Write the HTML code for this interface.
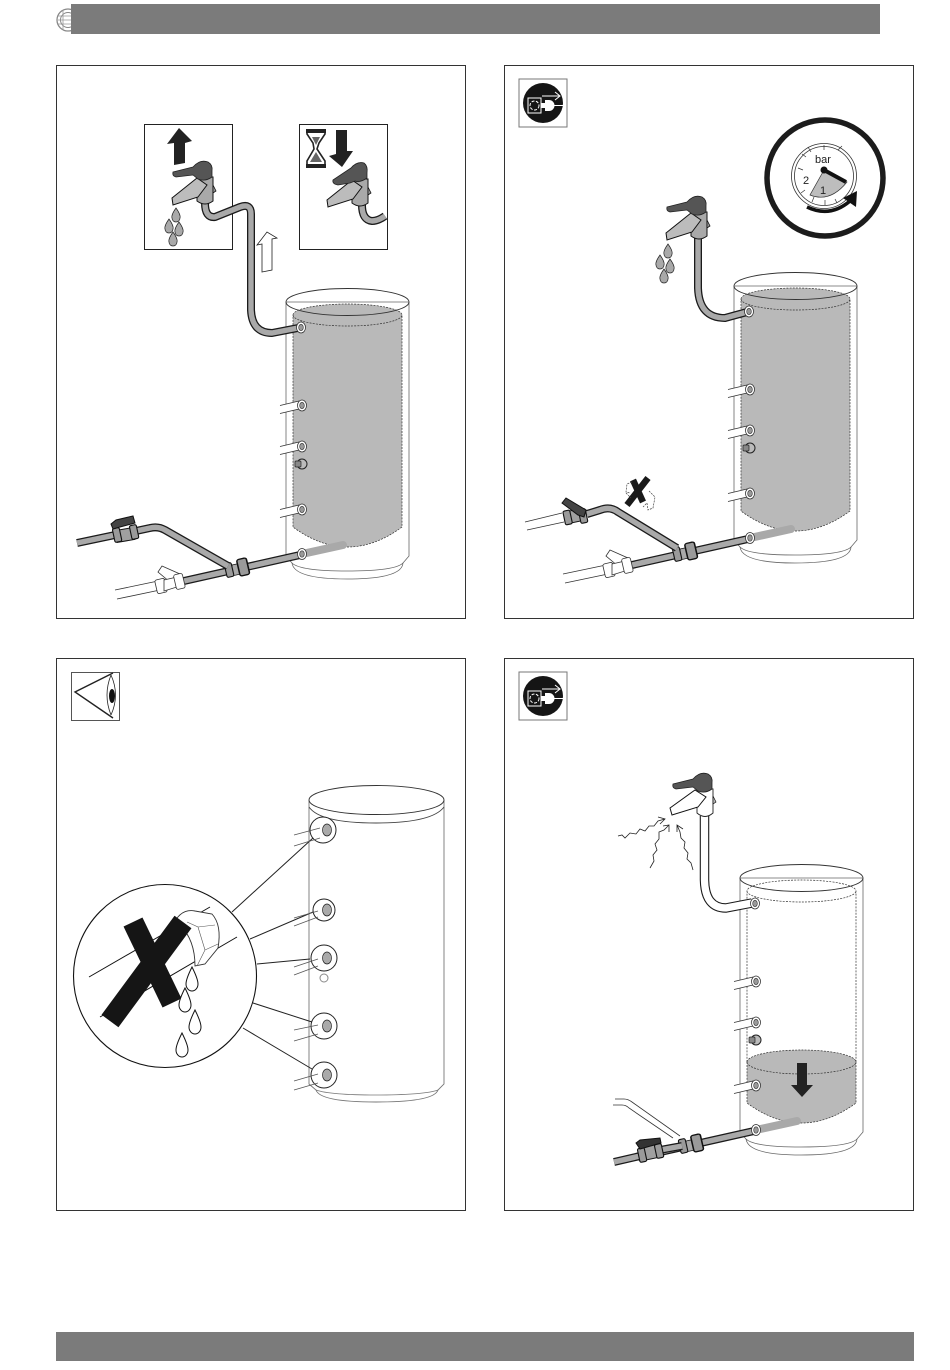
<!DOCTYPE html>
<html><head><meta charset="utf-8"><style>
html,body{margin:0;padding:0;background:#fff;width:950px;height:1370px;overflow:hidden}
svg{display:block}
.po{fill:none;stroke:#1a1a1a;stroke-width:8;stroke-linecap:butt;stroke-linejoin:round}
.pi{fill:none;stroke:#a9a9a9;stroke-width:5.4;stroke-linecap:butt;stroke-linejoin:round}
.frame{fill:#fff;stroke:#333;stroke-width:1}
text{font-family:"Liberation Sans",sans-serif;fill:#222}
</style></head><body>
<svg width="950" height="1370" viewBox="0 0 950 1370" xmlns="http://www.w3.org/2000/svg">
<defs>
<g id="shell">
<path d="M286,302V556L292,563Q294,579 347,579Q402,579 403,563L409,556V302Z" fill="#fff" stroke="#666" stroke-width=".8"/>
<path d="M292,563Q300,571 347,571Q395,571 403,563" fill="none" stroke="#666" stroke-width=".8"/>
</g>
<g id="water">
<path d="M293,315A54.5,11 0 0 1 402,315V527Q347.5,567 293,527Z" fill="#b9b9b9" stroke="#333" stroke-width=".7" stroke-dasharray="2 1.2"/>
<path d="M293,315A54.5,11 0 0 0 402,315" fill="none" stroke="#333" stroke-width=".7" stroke-dasharray="2 1.2"/>
</g>
<ellipse id="rim" cx="347.5" cy="302" rx="61.5" ry="13.5" fill="none" stroke="#333" stroke-width=".9"/>
<g id="pt">
<ellipse cx="0" cy="2.5" rx="4.5" ry="5.5" fill="#fff" stroke="#333" stroke-width=".8"/>
<ellipse cx="0" cy="2.5" rx="2.3" ry="3.2" fill="#999" stroke="#333" stroke-width=".6"/>
</g>
<g id="stub">
<path d="M-22,2.500L-3,-2V6L-22,10.500Z" fill="#fff"/>
<path d="M-22,2.500L-3,-2M-22,10.500L-3,6" stroke="#333" stroke-width=".8" fill="none"/>
<use href="#pt"/>
</g>
<g id="ports">
<use href="#stub" x="302" y="403"/>
<use href="#stub" x="302" y="444"/>
<circle cx="302" cy="464" r="5" fill="#bbb" stroke="#222" stroke-width="1"/>
<rect x="295" y="461" width="6" height="6" rx="1" fill="#888" stroke="#222" stroke-width=".7"/>
<use href="#stub" x="302" y="507"/>
</g>
<rect id="nut" x="-3.4" y="-7" width="7" height="14" rx="1.6" fill="#9a9a9a" stroke="#111" stroke-width="1.1"/>
<g id="main">
<path d="M302,554L343,545" stroke="#a9a9a9" stroke-width="8" stroke-linecap="round"/>
<path class="po" d="M184,581L300,555"/>
<path class="pi" d="M184,581L300,555"/>
<path d="M232,565L241,563V574L232,576Z" fill="#a9a9a9" stroke="#111" stroke-width=".7"/>
<use href="#nut" transform="translate(229,570) rotate(-13)"/>
<use href="#nut" transform="translate(243,567) rotate(-13) scale(1.4,1.2)"/>
<use href="#pt" transform="translate(302,551.500)"/>
</g>
<g id="whitevalve" fill="#fff" stroke="#333" stroke-width=".8">
<path d="M115,590L158,581M117,599L160,590" fill="none"/>
<path d="M158,572L162,566L180,574L178,580L170,582Z"/>
<rect x="156" y="579" width="10" height="14" rx="2" transform="rotate(-13 161 586)"/>
<path d="M164,580L177,577V587L164,591Z"/>
<rect x="175" y="574" width="9" height="15" rx="2" transform="rotate(-13 179 582)"/>
</g>
<g id="fa">
<path d="M-8,-28H8V-4Q0,2 -8,-4Z" fill="#a9a9a9" stroke="#111"/>
<path d="M8,-20L11,-14L8,-12Z" fill="#999" stroke="#111" stroke-width=".8"/>
<path d="M-33,-7L-8,-27L2,-20L-7,-8L-32,0Z" fill="#bcbcbc" stroke="#111"/>
<path d="M-32,-33L-12,-38Q-5,-46 3,-43Q8,-40 7,-34V-28Q0,-23 -7,-26L-12,-30L-29,-28Q-33,-29 -32,-33Z" fill="#555" stroke="#222" stroke-width=".8"/>
</g>
<g id="fa2">
<path d="M-8,-28H8V-4Q0,2 -8,-4Z" fill="#a9a9a9" stroke="#111"/>
<path d="M8,-20L11,-14L8,-12Z" fill="#999" stroke="#111" stroke-width=".8"/>
<path d="M-33,-7L-8,-27L2,-20L-7,-8L-32,0Z" fill="#bcbcbc" stroke="#111"/>
<path d="M-27,-27L-9,-39Q-3,-46 4,-44Q8,-41 7,-34V-29Q0,-24 -5,-26L-10,-24L-22,-22Q-28,-23 -27,-27Z" fill="#555" stroke="#222" stroke-width=".8"/>
</g>
<path id="drop" d="M0,-7Q5,0 4,3A4,4 0 1 1 -4,3Q-5,0 0,-7Z" fill="#a9a9a9" stroke="#222" stroke-width=".7"/>
<path id="drop2" d="M0,-12Q6,0 6,5A6,7 0 1 1 -6,5Q-6,0 0,-12Z" fill="#fff" stroke="#111" stroke-width="1"/>
<g id="icon">
<rect x="-24" y="-24" width="48" height="48" fill="#fff" stroke="#777"/>
<circle r="20" fill="#151515"/>
<rect x="-15" y="-5" width="13" height="15" fill="#151515" stroke="#fff"/>
<circle cx="-8.500" cy="2.500" r="4.500" fill="none" stroke="#fff" stroke-dasharray="3 1.500"/>
<path d="M-2,0H2V-3H6A5.500,5.500 0 0 1 6,8H2V5H-2Z" fill="#fff"/>
<path d="M11,2.500H20" stroke="#fff"/>
<path d="M-1,-7H17M12,-11L17,-7L12,-3" fill="none" stroke="#fff" stroke-width="1"/>
</g>
</defs>

<rect width="950" height="1370" fill="#fff"/>
<!-- header logo & bars -->
<circle cx="68" cy="20" r="11" fill="#fff" stroke="#888" stroke-width="1.300"/>
<circle cx="68" cy="20" r="7.500" fill="none" stroke="#888" stroke-width="1"/>
<path d="M58,16H72M58,20H72M58,24H72M63,10V30" stroke="#999" stroke-width=".8"/>
<rect x="71" y="4" width="809" height="30" fill="#7b7b7b"/>
<rect x="56" y="1332" width="858" height="29" fill="#7b7b7b"/>

<!-- frames -->
<rect class="frame" x="56.500" y="65.500" width="409" height="553"/>
<rect class="frame" x="504.500" y="65.500" width="409" height="553"/>
<rect class="frame" x="56.500" y="658.500" width="409" height="552"/>
<rect class="frame" x="504.500" y="658.500" width="409" height="552"/>

<!-- PANEL 1 -->
<rect x="144.500" y="124.500" width="88" height="125" fill="#fff" stroke="#222"/>
<rect x="299.500" y="124.500" width="88" height="125" fill="#fff" stroke="#222"/>
<use href="#shell"/><use href="#water"/><use href="#rim"/><use href="#ports"/>
<path class="po" d="M205,203Q205,218 215,217L240,207Q251,203 251,214V310Q252,333 272,333L298,328"/>
<path class="pi" d="M205,203Q205,218 215,217L240,207Q251,203 251,214V310Q252,333 272,333L298,328"/>
<use href="#pt" x="301" y="325"/>
<use href="#fa" x="205" y="205"/>
<use href="#drop" x="176" y="215"/><use href="#drop" x="169" y="226"/><use href="#drop" x="179" y="229"/><use href="#drop" x="173" y="239"/>
<path d="M174,165L185,163V143L192,141L179,128L167,144L174,143Z" fill="#222"/>
<path d="M336,130H347V151L353,151L342,167L329,156L336,154Z" fill="#222"/>
<path d="M307,130H325V134L319,143L317,149L325,161V167H307V161L314,149L313,143L307,134Z" fill="#fff" stroke="#222" stroke-width="1.600"/>
<path d="M306,129H326V133H306ZM306,164H326V168H306Z" fill="#222"/>
<path d="M312,137H320L316,145Z M310,162L316,152L322,162Z" fill="#666"/>
<path class="po" d="M362,205Q362,220 372,221Q378,221 385,216" stroke-width="7"/>
<path class="pi" d="M362,205Q362,220 372,221Q378,221 385,216" stroke-width="4.500"/>
<use href="#fa2" x="360" y="207"/>
<path d="M262,272L272,270V239L277,238L267,232L257,245L262,244Z" fill="#fff" stroke="#222" stroke-width=".8"/>
<use href="#main"/><use href="#whitevalve"/>
<path class="po" d="M77,543L115,535M136,531L150,528Q158,526 165,530L228,566"/>
<path class="pi" d="M77,543L115,535M136,531L150,528Q158,526 165,530L228,566"/>
<rect x="116" y="529" width="18" height="12" fill="#a0a0a0" stroke="#111" transform="rotate(-10 125 535)"/>
<use href="#nut" transform="translate(117,535) rotate(-12)"/>
<use href="#nut" transform="translate(134,532) rotate(-12)"/>
<path d="M111,524L116,520L133,516L135,523L120,527L113,529Z" fill="#444" stroke="#111"/>

<!-- PANEL 2 -->
<use href="#icon" x="543" y="103"/>
<g transform="translate(448,-16)"><use href="#shell"/><use href="#water"/><use href="#rim"/><use href="#ports"/><use href="#main"/><use href="#whitevalve"/></g>
<path class="po" d="M698,238V288Q699,318 725,318L747,312"/>
<path class="pi" d="M698,238V288Q699,318 725,318L747,312"/>
<use href="#pt" x="749" y="309"/>
<use href="#fa" x="699" y="240"/>
<use href="#drop" x="668" y="251"/><use href="#drop" x="660" y="262"/><use href="#drop" x="670" y="266"/><use href="#drop" x="664" y="276"/>
<path d="M525,522L562,513M527,530L564,522" fill="none" stroke="#333" stroke-width=".8"/>
<path class="po" d="M587,514L600,510Q610,506 618,512L677,548"/>
<path class="pi" d="M587,514L600,510Q610,506 618,512L677,548"/>
<rect x="567" y="510" width="16" height="12" fill="#a0a0a0" stroke="#111" transform="rotate(-12 575 516)"/>
<use href="#nut" transform="translate(567.500,517.500) rotate(-12)" fill="#fff"/>
<use href="#nut" transform="translate(583,516) rotate(-12)"/>
<path d="M562,503L566,498L586,510L584,517L578,515Z" fill="#444" stroke="#111"/>
<path d="M648,478L627,505M633,480L643,502" stroke="#1a1a1a" stroke-width="6.500" fill="none"/>
<path d="M632,482L627,484L626,492L630,493M626,493L631,498M649,491L655,497L653,508L648,510L647,503L643,507" fill="none" stroke="#444" stroke-width=".7" stroke-dasharray="2 1"/>
<circle cx="825" cy="178" r="58" fill="#fff" stroke="#1c1c1c" stroke-width="5.500"/>
<circle cx="824" cy="176" r="32.500" fill="#fff" stroke="#333" stroke-width=".8"/>
<circle cx="824" cy="176" r="29.500" fill="#fff" stroke="#333" stroke-width=".8"/>
<path d="M824,170L810,195Q830,203 847,182Z" fill="#bdbdbd" stroke="#333" stroke-width=".7"/>
<path d="M824,170L846,182" stroke="#111" stroke-width="4"/><circle cx="824" cy="170" r="3.500" fill="#111"/>
<path d="M806,157L802,154M803,170L798,168M805,190L801,193M814,197L812,202M825,200V205M835,199L837,203M838,150L842,146M824,145V150M808,147L811,152" stroke="#333" stroke-width=".7"/>
<text x="823" y="163" font-size="11" text-anchor="middle">bar</text>
<text x="806" y="184" font-size="11" text-anchor="middle">2</text>
<text x="823" y="194" font-size="11" text-anchor="middle">1</text>
<path d="M807,207Q830,218 850,201" fill="none" stroke="#111" stroke-width="3.500"/>
<path d="M843,198L857,191L856,207Z" fill="#111"/>

<!-- PANEL 3 -->
<rect x="71.500" y="672.500" width="48" height="48" fill="#fff" stroke="#555"/>
<path d="M113,673L75,692L113,718" fill="none" stroke="#222" stroke-width="1.400"/>
<path d="M111,675Q103,695 111,715M111,675Q120,695 111,715" fill="none" stroke="#222" stroke-width=".8"/>
<ellipse cx="112" cy="696" rx="3" ry="7" fill="#111"/>
<path d="M309,800V1084L316,1090Q320,1102 376,1102Q434,1102 438,1090L444,1084V800" fill="#fff" stroke="#777" stroke-width=".9"/>
<path d="M316,1090Q330,1095 376,1095Q424,1095 438,1090" fill="none" stroke="#777" stroke-width=".8"/>
<ellipse cx="376.500" cy="800" rx="67.500" ry="14.500" fill="#fff" stroke="#333" stroke-width=".9"/>
<path d="M309,807Q320,823 376,823Q432,823 444,807" fill="none" stroke="#444" stroke-width=".9"/>
<path d="M232,912L313,838M250,939L313,912M257,964L310,959M253,1003L312,1022M243,1028L312,1069" stroke="#222" stroke-width="1"/>
<g fill="#fff" stroke="#222" stroke-width="1">
<circle cx="323" cy="830" r="13"/><circle cx="324" cy="910" r="11"/><circle cx="324" cy="958" r="13"/><circle cx="324" cy="1026" r="13"/><circle cx="324" cy="1075" r="13"/>
</g>
<g stroke="#555" stroke-width=".8" fill="none">
<path d="M294,835L320,828M294,846L320,838M294,918L318,911M294,926L318,917M294,967L318,959M294,975L318,966M294,1030L318,1025M294,1041L318,1034M294,1081L318,1074M294,1090L318,1083"/>
</g>
<g fill="#aaa" stroke="#222" stroke-width=".7">
<ellipse cx="327" cy="830" rx="4.500" ry="6"/><ellipse cx="327" cy="910" rx="4.500" ry="6"/><ellipse cx="327" cy="958" rx="4.500" ry="6"/><ellipse cx="327" cy="1026" rx="4.500" ry="6"/><ellipse cx="327" cy="1075" rx="4.500" ry="6"/>
</g>
<circle cx="324" cy="978" r="4" fill="#fff" stroke="#888"/>
<circle cx="165" cy="976" r="91.500" fill="#fff" stroke="#111" stroke-width="1.100"/>
<path d="M89,977L210,907M100,1017L237,937" stroke="#111" fill="none"/>
<path d="M172,927Q180,908 195,911L212,914Q222,925 218,948L205,964L195,966Q195,940 180,925Z" fill="#fff" stroke="#333" stroke-width=".9"/>
<path d="M187,922L198,927L205,950L197,966M198,927L215,925M205,950L218,944" fill="none" stroke="#555" stroke-width=".6"/>
<path d="M110,1021L183,922M133,922L172,1003" stroke="#151515" stroke-width="21" fill="none"/>
<use href="#drop2" x="192" y="979"/><use href="#drop2" x="185" y="1000"/><use href="#drop2" x="195" y="1022"/><use href="#drop2" x="182" y="1045"/>

<!-- PANEL 4 -->
<use href="#icon" x="543" y="696"/>
<g transform="translate(454,576)">
<use href="#shell"/>
<path d="M293,486A54.500,12 0 0 1 402,486V527Q347.500,567 293,527Z" fill="#b9b9b9" stroke="#333" stroke-width=".7" stroke-dasharray="2 1.200"/>
<path d="M293,486A54.500,12 0 0 0 402,486" fill="none" stroke="#333" stroke-width=".7" stroke-dasharray="2 1.200"/>
<path d="M293,486V315A54.500,11 0 0 1 402,315V486M293,315A54.500,11 0 0 0 402,315" fill="none" stroke="#333" stroke-width=".7" stroke-dasharray="2 1.200"/>
<use href="#rim"/><use href="#ports"/><use href="#main"/>
</g>
<path d="M797,1063H807V1085L813,1085L802,1097L791,1085L797,1085Z" fill="#222"/>
<path class="po" d="M704.500,816V880Q705,908 726,908L752,903" style="stroke-width:9.500"/>
<path d="M704.500,816V880Q705,908 726,908L752,903" fill="none" stroke="#fff" stroke-width="7.300"/>
<use href="#pt" x="755" y="901"/>
<path d="M697,789H713V813Q705,820 697,813Z" fill="#fff" stroke="#222" stroke-width=".9"/>
<path d="M713,796L716,802L713,804Z" fill="#bbb" stroke="#111" stroke-width=".7"/>
<path d="M670,808L695,790L706,797L698,807L672,815Z" fill="#fff" stroke="#111"/>
<path d="M673,784L693,779Q700,771 708,774Q713,777 712,783V789Q705,794 698,791L693,787L676,789Q672,788 673,784Z" fill="#555" stroke="#222" stroke-width=".8"/>
<path d="M618,836L622,835L625,838L630,833L636,834L640,829L645,831L649,826L654,826L658,821L665,819M658,817L665,819L660,824M650,868L654,861L653,855L657,850L655,844L659,839L659,832L664,830L669,825M663,826L669,825L669,832M693,870L691,863L687,859L688,853L684,848L685,842L681,838L680,832L677,825M677,832L677,825L683,829" fill="none" stroke="#222" stroke-width=".8"/>
<path d="M615,1099H624Q628,1099 632,1102L680,1136M613,1105H622Q626,1105 629,1108L673,1138" fill="none" stroke="#333" stroke-width=".8"/>
<path class="po" d="M614,1162L640,1156"/><path class="pi" d="M614,1162L640,1156"/>
<path class="po" d="M660,1150L682,1146"/><path class="pi" d="M660,1150L682,1146"/>
<rect x="641" y="1146" width="18" height="13" fill="#a0a0a0" stroke="#111" transform="rotate(-12 650 1152)"/>
<use href="#nut" transform="translate(642,1155) rotate(-12)"/>
<use href="#nut" transform="translate(659,1151) rotate(-12)"/>
<path d="M636,1143L640,1140L660,1138L661,1143L640,1149Z" fill="#333" stroke="#111"/>
</svg>
</body></html>
